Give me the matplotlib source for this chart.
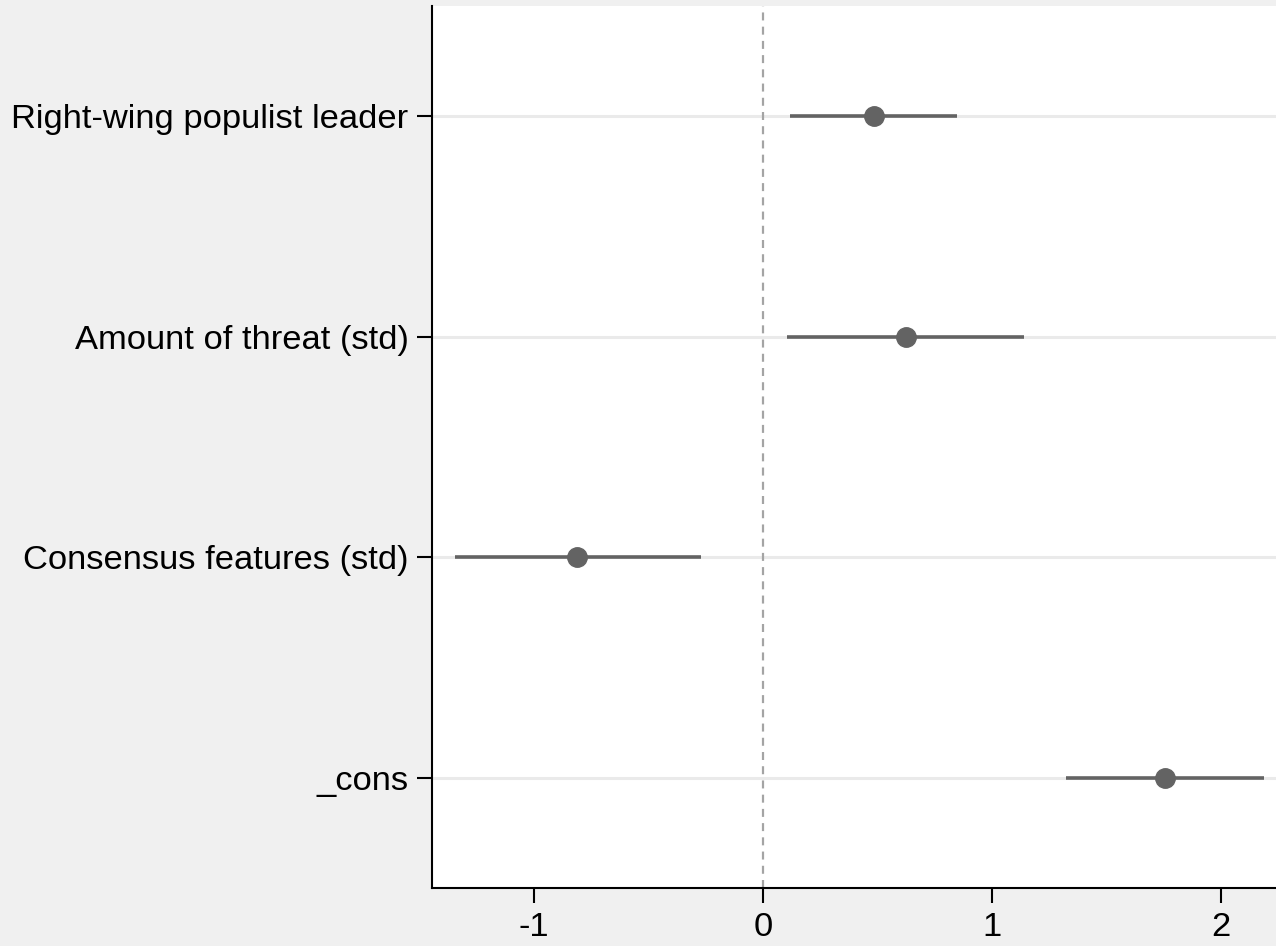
import matplotlib
matplotlib.use("Agg")
import matplotlib.pyplot as plt

# coefficient estimates with 95% CIs
labels = ["Right-wing populist leader", "Amount of threat (std)",
          "Consensus features (std)", "_cons"]
coefs = [0.485, 0.624, -0.812, 1.755]
ci_low = [0.118, 0.105, -1.345, 1.323]
ci_high = [0.847, 1.14, -0.271, 2.188]
xticks = [-1, 0, 1, 2]

plt.rcParams["font.family"] = ["Liberation Sans", "DejaVu Sans"]
plt.rcParams["axes.unicode_minus"] = False

fig = plt.figure(figsize=(12.76, 9.46), dpi=100, facecolor="#f0f0f0")
ax = fig.add_axes([432 / 1276, 58 / 946, 1 - 432 / 1276, 882 / 946])
ax.set_facecolor("white")

ypos = list(range(1, len(labels) + 1))
for y in ypos:
    ax.axhline(y, color="#eaeaea", lw=2.2, zorder=1)
ax.axvline(0, color="#a4a4a4", lw=1.6, ls=(0, (3.6, 2.8)), zorder=2)

ax.hlines(ypos, ci_low, ci_high, color="#636363", lw=2.6, zorder=3)
ax.plot(coefs, ypos, "o", color="#636363", ms=14, zorder=4)

ax.set_ylim(len(labels) + 0.5, 0.5)
ax.set_xlim(-1.445, 2.24)
ax.set_yticks(ypos)
ax.set_yticklabels(labels)
ax.set_xticks(xticks)

for s in ("top", "right"):
    ax.spines[s].set_visible(False)
for s in ("left", "bottom"):
    ax.spines[s].set_linewidth(1.5)
ax.tick_params(axis="both", labelsize=24.8, width=1.5, length=11, pad=6)

fig.savefig("out.png", dpi=100, facecolor=fig.get_facecolor())
